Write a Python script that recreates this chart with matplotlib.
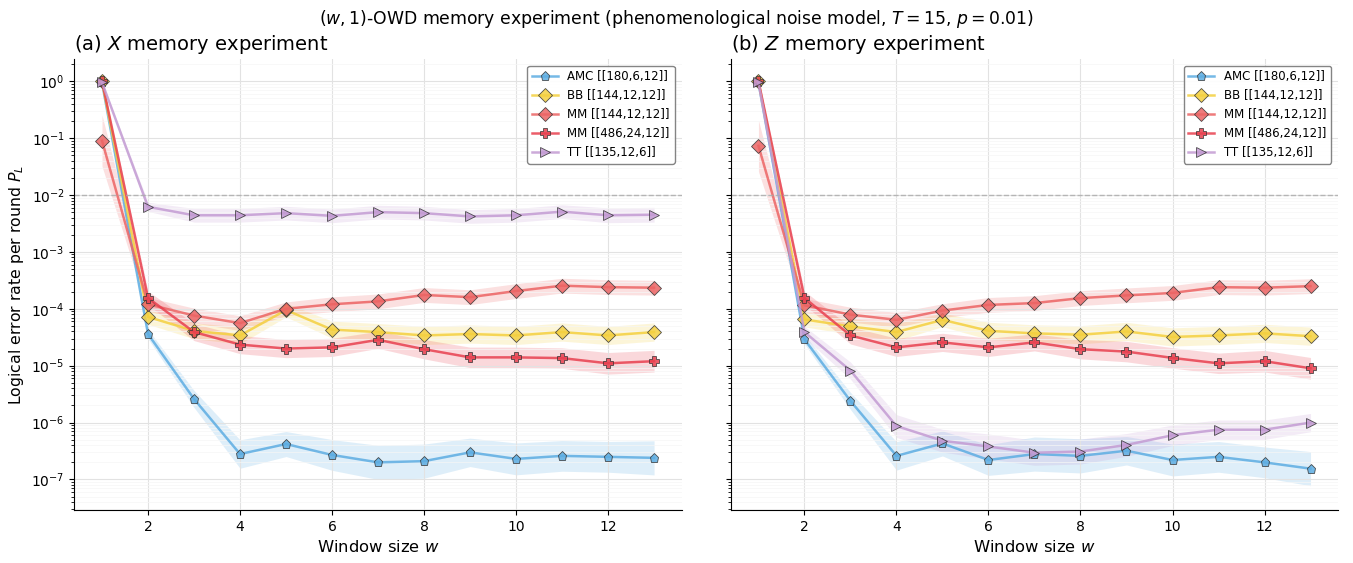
import numpy as np
import matplotlib.pyplot as plt

# window sizes
w = np.arange(1, 14)

labels = ['AMC [[180,6,12]]', 'BB [[144,12,12]]', 'MM [[144,12,12]]',
          'MM [[486,24,12]]', 'TT [[135,12,6]]']
colors = ['#5DADE2', '#F4D03F', '#EC6464', '#E8404F', '#C39BD3']
markers = ['p', 'D', 'D', 'P', '>']
sizes = [6.5, 7, 7, 7.5, 7.5]

# X memory experiment: logical error rate per round
amc_x = [0.95, 3.6e-5, 2.6e-6, 2.8e-7, 4.2e-7, 2.7e-7, 2.0e-7, 2.1e-7, 3.0e-7, 2.3e-7, 2.6e-7, 2.5e-7, 2.4e-7]
bb_x = [1.0, 7.2e-5, 4.1e-5, 3.4e-5, 9.5e-5, 4.3e-5, 3.9e-5, 3.4e-5, 3.6e-5, 3.4e-5, 3.9e-5, 3.4e-5, 3.9e-5]
mm144_x = [0.09, 1.2e-4, 7.6e-5, 5.6e-5, 1.0e-4, 1.2e-4, 1.35e-4, 1.75e-4, 1.6e-4, 2.05e-4, 2.55e-4, 2.4e-4, 2.35e-4]
mm486_x = [1.0, 1.55e-4, 3.9e-5, 2.35e-5, 2.0e-5, 2.1e-5, 2.85e-5, 1.95e-5, 1.4e-5, 1.4e-5, 1.36e-5, 1.1e-5, 1.2e-5]
tt_x = [0.95, 6.2e-3, 4.4e-3, 4.4e-3, 4.8e-3, 4.3e-3, 5.0e-3, 4.8e-3, 4.2e-3, 4.4e-3, 5.1e-3, 4.4e-3, 4.5e-3]

# Z memory experiment
amc_z = [0.95, 2.9e-5, 2.4e-6, 2.6e-7, 4.3e-7, 2.2e-7, 2.8e-7, 2.6e-7, 3.2e-7, 2.2e-7, 2.5e-7, 2.0e-7, 1.55e-7]
bb_z = [1.0, 6.5e-5, 4.9e-5, 3.9e-5, 6.4e-5, 4.1e-5, 3.7e-5, 3.5e-5, 4.0e-5, 3.2e-5, 3.4e-5, 3.7e-5, 3.3e-5]
mm144_z = [0.073, 1.15e-4, 7.9e-5, 6.4e-5, 9.3e-5, 1.17e-4, 1.26e-4, 1.54e-4, 1.72e-4, 1.9e-4, 2.4e-4, 2.35e-4, 2.5e-4]
mm486_z = [1.0, 1.55e-4, 3.4e-5, 2.1e-5, 2.57e-5, 2.1e-5, 2.57e-5, 1.95e-5, 1.77e-5, 1.37e-5, 1.1e-5, 1.2e-5, 9e-6]
tt_z = [0.95, 3.9e-5, 8.2e-6, 8.7e-7, 4.8e-7, 3.8e-7, 2.95e-7, 3.1e-7, 4.05e-7, 6.0e-7, 7.5e-7, 7.5e-7, 1.0e-6]

# half-width of the confidence band, in decades
band_amc = [0.02, 0.08, 0.15, 0.25, 0.22, 0.27, 0.3, 0.3, 0.25, 0.28, 0.27, 0.27, 0.3]
band_bb = [0.02, 0.13, 0.14, 0.15, 0.12, 0.15, 0.15, 0.16, 0.16, 0.16, 0.16, 0.16, 0.16]
band_mm144 = [0.45, 0.12, 0.13, 0.13, 0.12, 0.13, 0.13, 0.13, 0.13, 0.13, 0.13, 0.13, 0.13]
band_mm486 = [0.02, 0.12, 0.15, 0.16, 0.16, 0.16, 0.15, 0.17, 0.18, 0.18, 0.18, 0.19, 0.19]
band_tt_x = [0.02, 0.08, 0.12, 0.12, 0.12, 0.12, 0.12, 0.12, 0.12, 0.12, 0.12, 0.13, 0.13]
band_tt_z = [0.02, 0.1, 0.15, 0.2, 0.2, 0.22, 0.22, 0.22, 0.2, 0.18, 0.17, 0.17, 0.16]

panels = [
    ('(a) $X$ memory experiment', [amc_x, bb_x, mm144_x, mm486_x, tt_x],
     [band_amc, band_bb, band_mm144, band_mm486, band_tt_x]),
    ('(b) $Z$ memory experiment', [amc_z, bb_z, mm144_z, mm486_z, tt_z],
     [band_amc, band_bb, band_mm144, band_mm486, band_tt_z]),
]

fig, axes = plt.subplots(1, 2, figsize=(13.53, 5.63), dpi=100, sharey=True)
fig.subplots_adjust(left=0.055, right=0.989, bottom=0.094, top=0.896, wspace=0.081)

for ax, (title, series, bands) in zip(axes, panels):
    for y, b, lab, c, m, ms in zip(series, bands, labels, colors, markers, sizes):
        y = np.array(y)
        b = np.array(b)
        ax.fill_between(w, y / 10 ** b, y * 10 ** b, color=c, alpha=0.2, lw=0)
        ax.plot(w, y, color=c, lw=1.8, alpha=0.85, marker=m, ms=ms,
                mfc=c, mec='#333333', mew=0.6, label=lab)
    ax.axhline(1e-2, color='#aaaaaa', ls='--', lw=1, alpha=0.8)
    ax.set_yscale('log')
    ax.set_ylim(2.9e-8, 2.5)
    ax.set_xlim(0.4, 13.6)
    ax.set_xticks([2, 4, 6, 8, 10, 12])
    ax.grid(True, which='major', color='#e2e2e2', lw=0.8)
    ax.grid(True, which='minor', axis='y', color='#f6f6f6', lw=0.5)
    ax.spines['top'].set_visible(False)
    ax.spines['right'].set_visible(False)
    ax.set_xlabel('Window size $w$', fontsize=11.8)
    ax.set_title(title, loc='left', fontsize=14)
    ax.legend(loc='upper right', fontsize=8.5, framealpha=0.9, edgecolor='#777777',
              handlelength=2.2, borderaxespad=0.6)

axes[0].set_ylabel('Logical error rate per round $P_L$', fontsize=11.3)
fig.suptitle('$(w,1)$-OWD memory experiment (phenomenological noise model, $T=15$, $p=0.01$)',
             fontsize=12.4, y=0.985)

plt.savefig('out.png')
